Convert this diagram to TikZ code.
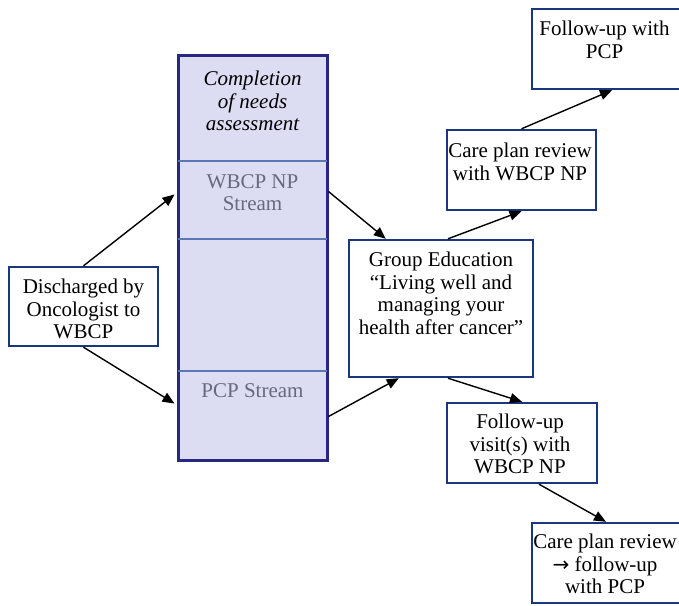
\documentclass[tikz,border=0pt]{standalone}
\usepackage{fontspec}
\setmainfont{Liberation Serif}
\usetikzlibrary{calc,arrows.meta}
\definecolor{boxblue}{RGB}{25,55,122}
\definecolor{colnavy}{RGB}{40,40,130}
\definecolor{colfill}{RGB}{220,220,243}
\definecolor{divblue}{RGB}{92,120,180}
\definecolor{streamgray}{RGB}{105,105,125}
\tikzset{
  box/.style={draw=boxblue, line width=2.4pt, fill=white, inner sep=0pt, rectangle},
  txt/.style={anchor=north, inner sep=0pt, align=center, font=\fontsize{21}{22.5}\selectfont},
  arr/.style={line width=1.4pt, -{Triangle[length=12pt,width=10pt]}},
}
\begin{document}
\begin{tikzpicture}[x=1pt,y=-1pt]
\useasboundingbox (0,0) rectangle (679,605);
\clip (0,0) rectangle (679,605);
\fill[white] (0,0) rectangle (679,605);
% column
\node[draw=colnavy, fill=colfill, line width=3pt, inner sep=0pt, minimum width=149pt, minimum height=405pt] (col) at (252.5,257.5) {};
\draw[divblue, line width=2pt] ($(col.north west)+(1.5,107)$) -- ($(col.north east)+(-1.5,107)$);
\draw[divblue, line width=2pt] ($(col.north west)+(1.5,185)$) -- ($(col.north east)+(-1.5,185)$);
\draw[divblue, line width=2pt] ($(col.north west)+(1.5,317)$) -- ($(col.north east)+(-1.5,317)$);
\node[txt, font=\fontsize{21}{22.5}\selectfont\itshape] (comp) at (252.5,71) {Completion\\of needs\\assessment};
\node[txt, text=streamgray] (wbcpt) at (252.5,174) {WBCP NP\\Stream};
\node[txt, text=streamgray] (pcpt) at (252.5,383) {PCP Stream};
% boxes
\node[box, minimum width=149pt, minimum height=79pt] (dis) at (83.5,306.5) {};
\node[txt] (dist) at (83.5,279) {Discharged by\\Oncologist to\\WBCP};
\node[box, minimum width=184pt, minimum height=137pt] (ged) at (441,308.5) {};
\node[txt] (gedt) at (441,252) {Group Education\\“Living well and\\managing your\\health after cancer”};
\node[box, minimum width=149pt, minimum height=80pt] (cpr) at (521.5,170) {};
\node[txt] (cprt) at (520,143) {Care plan review\\with WBCP NP};
\node[box, minimum width=156pt, minimum height=80pt] (fpcp) at (610,49) {};
\node[txt] (fpcpt) at (604.5,21) {Follow-up with\\PCP};
\node[box, minimum width=150pt, minimum height=80pt] (fv) at (522,443) {};
\node[txt] (fvt) at (520,414) {Follow-up\\visit(s) with\\WBCP NP};
\node[box, minimum width=156pt, minimum height=80pt] (cp2) at (610,563) {};
\node[txt] (cp2t) at (605,534) {Care plan review\\{\fontspec{DejaVu Sans}\fontsize{20}{22.5}\selectfont →} follow-up\\with PCP};
% arrows
\draw[arr] (dis.north) -- ($(col.north west)+(-2,141)$);
\draw[arr] (dis.south) -- ($(col.north west)+(-2,350)$);
\draw[arr] ($(col.north east)+(0,138)$) -- ($(ged.north west)+(38,0)$);
\draw[arr] ($(col.north east)+(0,363)$) -- ($(ged.south west)+(51,0)$);
\draw[arr] ($(ged.north)+(7,0)$) -- (cpr.south);
\draw[arr] (cpr.north) -- ($(fpcp.south)+(2,0)$);
\draw[arr] ($(ged.south)+(7,0)$) -- (fv.north);
\draw[arr] ($(fv.south)+(17,0)$) -- ($(cp2.north)+(-4,0)$);
\end{tikzpicture}
\end{document}
